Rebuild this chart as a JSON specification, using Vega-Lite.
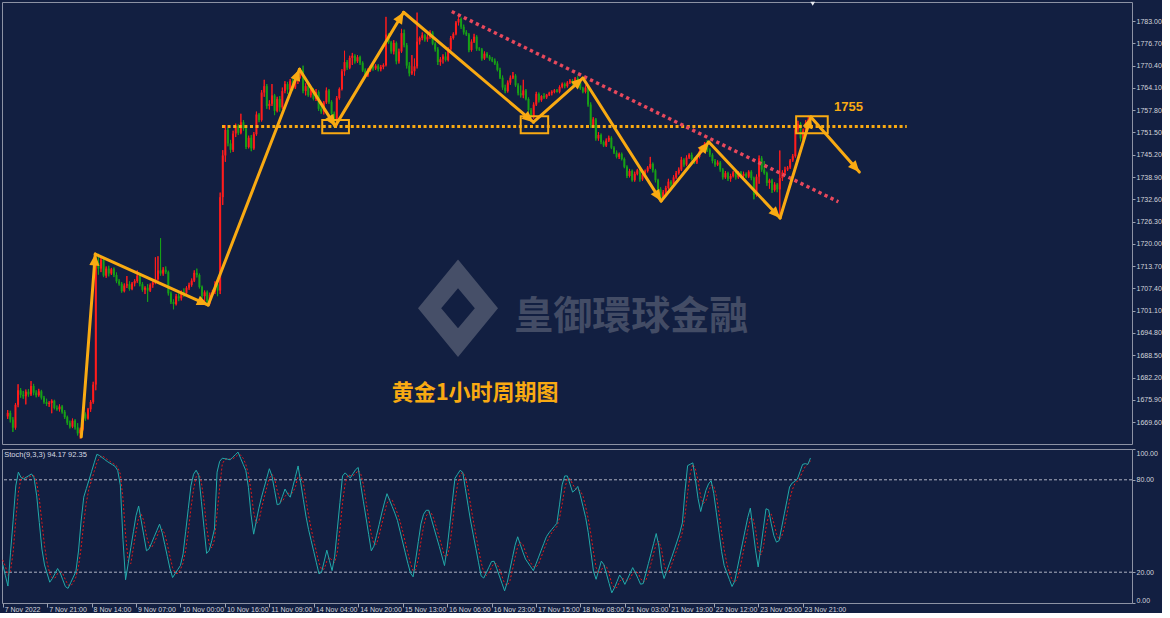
{
"$schema":"https://vega.github.io/schema/vega-lite/v6.json",
"padding":{"left":0,"top":1,"right":0,"bottom":0},
"background":"#121f41",
"spacing":3,
"datasets":{
"bars":[
{"i":0,"o":1671.2,"h":1673.0,"l":1670.5,"c":1672.2,"k":25,"d":28},
{"i":1,"o":1672.2,"h":1672.8,"l":1669.5,"c":1670.3,"k":18,"d":24},
{"i":2,"o":1670.3,"h":1671.0,"l":1666.8,"c":1668.0,"k":11,"d":18},
{"i":3,"o":1668.0,"h":1675.0,"l":1667.5,"c":1674.5,"k":33,"d":21},
{"i":4,"o":1674.5,"h":1680.3,"l":1673.8,"c":1678.6,"k":54,"d":33},
{"i":5,"o":1678.6,"h":1679.2,"l":1676.5,"c":1677.3,"k":76,"d":54},
{"i":6,"o":1677.3,"h":1678.4,"l":1676.2,"c":1676.9,"k":85,"d":72},
{"i":7,"o":1676.9,"h":1678.8,"l":1674.6,"c":1678.2,"k":81.5,"d":81},
{"i":8,"o":1678.2,"h":1678.9,"l":1676.8,"c":1677.4,"k":80.6,"d":82},
{"i":9,"o":1677.4,"h":1681.2,"l":1677.0,"c":1679.8,"k":81.7,"d":81},
{"i":10,"o":1679.8,"h":1680.4,"l":1677.2,"c":1677.9,"k":82.7,"d":81.7},
{"i":11,"o":1677.9,"h":1678.6,"l":1676.6,"c":1677.2,"k":83.8,"d":82.7},
{"i":12,"o":1677.2,"h":1679.0,"l":1676.8,"c":1678.3,"k":81.3,"d":82.6},
{"i":13,"o":1678.3,"h":1678.7,"l":1676.0,"c":1676.5,"k":69.6,"d":78.2},
{"i":14,"o":1676.5,"h":1677.0,"l":1674.8,"c":1675.3,"k":52.3,"d":67.7},
{"i":15,"o":1675.3,"h":1676.2,"l":1674.2,"c":1674.7,"k":35,"d":52.3},
{"i":16,"o":1674.7,"h":1675.5,"l":1673.9,"c":1675.0,"k":24.7,"d":37.3},
{"i":17,"o":1675.0,"h":1676.0,"l":1672.1,"c":1675.6,"k":19.1,"d":26.3},
{"i":18,"o":1675.6,"h":1675.9,"l":1673.2,"c":1673.6,"k":13.5,"d":19.1},
{"i":19,"o":1673.6,"h":1674.3,"l":1672.8,"c":1673.2,"k":15.9,"d":16.2},
{"i":20,"o":1673.2,"h":1674.6,"l":1672.6,"c":1674.0,"k":19.1,"d":16.2},
{"i":21,"o":1674.0,"h":1674.4,"l":1672.0,"c":1672.5,"k":22.4,"d":19.1},
{"i":22,"o":1672.5,"h":1673.0,"l":1670.5,"c":1671.0,"k":19.5,"d":20.3},
{"i":23,"o":1671.0,"h":1671.4,"l":1668.8,"c":1669.4,"k":15,"d":19},
{"i":24,"o":1669.4,"h":1670.0,"l":1667.8,"c":1668.3,"k":10.6,"d":15},
{"i":25,"o":1668.3,"h":1670.6,"l":1667.9,"c":1670.0,"k":9.5,"d":11.7},
{"i":26,"o":1670.0,"h":1670.4,"l":1667.5,"c":1668.1,"k":13.2,"d":11.1},
{"i":27,"o":1668.1,"h":1669.3,"l":1665.8,"c":1666.4,"k":16.8,"d":13.2},
{"i":28,"o":1666.4,"h":1668.0,"l":1664.9,"c":1667.5,"k":20.5,"d":16.8},
{"i":29,"o":1667.5,"h":1672.4,"l":1667.2,"c":1671.8,"k":33.8,"d":23.7},
{"i":30,"o":1671.8,"h":1672.3,"l":1670.0,"c":1670.6,"k":53.3,"d":35.9},
{"i":31,"o":1670.6,"h":1673.6,"l":1670.3,"c":1673.2,"k":68.7,"d":51.9},
{"i":32,"o":1673.2,"h":1675.8,"l":1672.5,"c":1675.3,"k":74.3,"d":65.4},
{"i":33,"o":1675.3,"h":1681.0,"l":1674.8,"c":1680.2,"k":79.8,"d":74.3},
{"i":34,"o":1680.2,"h":1715.6,"l":1678.6,"c":1714.6,"k":85.4,"d":79.8},
{"i":35,"o":1714.6,"h":1717.2,"l":1711.3,"c":1713.0,"k":91,"d":85.4},
{"i":36,"o":1713.0,"h":1716.2,"l":1712.0,"c":1715.5,"k":96.5,"d":91},
{"i":37,"o":1715.5,"h":1716.0,"l":1710.6,"c":1711.0,"k":95.8,"d":94.4},
{"i":38,"o":1711.0,"h":1713.6,"l":1710.4,"c":1713.0,"k":94.5,"d":95.6},
{"i":39,"o":1713.0,"h":1713.8,"l":1710.8,"c":1711.6,"k":93.2,"d":94.5},
{"i":40,"o":1711.6,"h":1713.2,"l":1711.2,"c":1712.8,"k":91.9,"d":93.2},
{"i":41,"o":1712.8,"h":1713.3,"l":1710.6,"c":1711.2,"k":90.8,"d":92},
{"i":42,"o":1711.2,"h":1711.9,"l":1708.9,"c":1709.4,"k":89.8,"d":90.8},
{"i":43,"o":1709.4,"h":1710.0,"l":1708.2,"c":1708.7,"k":88.7,"d":89.8},
{"i":44,"o":1708.7,"h":1709.2,"l":1706.2,"c":1706.6,"k":86,"d":88.2},
{"i":45,"o":1706.6,"h":1708.8,"l":1706.3,"c":1708.2,"k":76.5,"d":83.7},
{"i":46,"o":1708.2,"h":1710.9,"l":1707.5,"c":1708.6,"k":41.3,"d":67.9},
{"i":47,"o":1708.6,"h":1709.4,"l":1706.8,"c":1707.2,"k":15.1,"d":44.3},
{"i":48,"o":1707.2,"h":1709.2,"l":1706.9,"c":1708.8,"k":25.5,"d":27.3},
{"i":49,"o":1708.8,"h":1710.0,"l":1708.0,"c":1709.5,"k":35.9,"d":25.5},
{"i":50,"o":1709.5,"h":1712.5,"l":1709.0,"c":1711.0,"k":46.3,"d":35.9},
{"i":51,"o":1711.0,"h":1711.8,"l":1708.0,"c":1708.6,"k":56.7,"d":46.3},
{"i":52,"o":1708.6,"h":1709.2,"l":1706.5,"c":1707.0,"k":63,"d":55.3},
{"i":53,"o":1707.0,"h":1708.0,"l":1705.8,"c":1707.6,"k":53.3,"d":57.7},
{"i":54,"o":1707.6,"h":1708.6,"l":1703.6,"c":1706.8,"k":43.6,"d":53.3},
{"i":55,"o":1706.8,"h":1708.8,"l":1706.4,"c":1708.4,"k":33.9,"d":43.6},
{"i":56,"o":1708.4,"h":1709.5,"l":1707.6,"c":1709.1,"k":35.2,"d":37.6},
{"i":57,"o":1709.1,"h":1716.2,"l":1708.6,"c":1710.0,"k":39.2,"d":36.1},
{"i":58,"o":1710.0,"h":1716.5,"l":1709.6,"c":1712.5,"k":43.2,"d":39.2},
{"i":59,"o":1712.5,"h":1721.6,"l":1711.0,"c":1711.6,"k":47.2,"d":43.2},
{"i":60,"o":1711.6,"h":1713.4,"l":1711.0,"c":1712.7,"k":51.2,"d":47.2},
{"i":61,"o":1712.7,"h":1713.6,"l":1711.5,"c":1712.0,"k":45.7,"d":48},
{"i":62,"o":1712.0,"h":1712.4,"l":1705.4,"c":1706.0,"k":37.9,"d":44.9},
{"i":63,"o":1706.0,"h":1706.5,"l":1703.0,"c":1703.6,"k":30.1,"d":37.9},
{"i":64,"o":1703.6,"h":1704.3,"l":1701.5,"c":1703.0,"k":22.2,"d":30.1},
{"i":65,"o":1703.0,"h":1705.8,"l":1702.6,"c":1705.2,"k":16.5,"d":22.9},
{"i":66,"o":1705.2,"h":1706.0,"l":1703.8,"c":1704.6,"k":19.2,"d":19.3},
{"i":67,"o":1704.6,"h":1706.8,"l":1704.0,"c":1706.2,"k":21.8,"d":19.2},
{"i":68,"o":1706.2,"h":1707.4,"l":1705.0,"c":1706.0,"k":24.4,"d":21.8},
{"i":69,"o":1706.0,"h":1708.0,"l":1705.6,"c":1707.6,"k":31.9,"d":26},
{"i":70,"o":1707.6,"h":1709.0,"l":1707.0,"c":1708.4,"k":46.6,"d":34.3},
{"i":71,"o":1708.4,"h":1710.2,"l":1707.9,"c":1709.6,"k":61.3,"d":46.6},
{"i":72,"o":1709.6,"h":1712.5,"l":1709.2,"c":1711.8,"k":76.1,"d":61.3},
{"i":73,"o":1711.8,"h":1713.0,"l":1710.5,"c":1711.2,"k":83.6,"d":73.7},
{"i":74,"o":1711.2,"h":1711.6,"l":1707.4,"c":1707.8,"k":86.2,"d":82},
{"i":75,"o":1707.8,"h":1708.2,"l":1704.6,"c":1705.2,"k":82.9,"d":84.2},
{"i":76,"o":1705.2,"h":1706.8,"l":1703.4,"c":1706.3,"k":66,"d":78.4},
{"i":77,"o":1706.3,"h":1706.8,"l":1703.2,"c":1703.8,"k":49.1,"d":66},
{"i":78,"o":1703.8,"h":1706.2,"l":1702.9,"c":1705.6,"k":32.2,"d":49.1},
{"i":79,"o":1705.6,"h":1707.0,"l":1705.0,"c":1706.4,"k":34.2,"d":38.5},
{"i":80,"o":1706.4,"h":1709.4,"l":1705.8,"c":1708.6,"k":40.7,"d":35.7},
{"i":81,"o":1708.6,"h":1710.4,"l":1705.2,"c":1706.8,"k":48,"d":41},
{"i":82,"o":1706.8,"h":1734.5,"l":1705.8,"c":1733.2,"k":85,"d":58},
{"i":83,"o":1733.2,"h":1746.5,"l":1731.0,"c":1745.0,"k":92,"d":75},
{"i":84,"o":1745.0,"h":1753.6,"l":1743.2,"c":1752.2,"k":94,"d":90.3},
{"i":85,"o":1752.2,"h":1752.8,"l":1747.6,"c":1748.4,"k":93.7,"d":93.2},
{"i":86,"o":1748.4,"h":1749.4,"l":1745.8,"c":1746.6,"k":93.4,"d":93.7},
{"i":87,"o":1746.6,"h":1752.0,"l":1746.0,"c":1751.2,"k":93,"d":93.4},
{"i":88,"o":1751.2,"h":1754.0,"l":1750.2,"c":1753.4,"k":94.7,"d":93.7},
{"i":89,"o":1753.4,"h":1753.8,"l":1750.8,"c":1751.4,"k":96.3,"d":94.7},
{"i":90,"o":1751.4,"h":1756.8,"l":1751.0,"c":1754.4,"k":98,"d":96.3},
{"i":91,"o":1754.4,"h":1755.0,"l":1752.0,"c":1752.6,"k":94,"d":96.1},
{"i":92,"o":1752.6,"h":1753.0,"l":1746.8,"c":1747.4,"k":90,"d":94},
{"i":93,"o":1747.4,"h":1750.6,"l":1747.0,"c":1750.0,"k":86,"d":90},
{"i":94,"o":1750.0,"h":1750.8,"l":1746.2,"c":1747.0,"k":75.1,"d":83.7},
{"i":95,"o":1747.0,"h":1751.6,"l":1746.6,"c":1751.0,"k":57.3,"d":72.8},
{"i":96,"o":1751.0,"h":1757.4,"l":1750.6,"c":1756.6,"k":44.7,"d":59},
{"i":97,"o":1756.6,"h":1757.0,"l":1754.4,"c":1755.0,"k":53.2,"d":51.7},
{"i":98,"o":1755.0,"h":1763.5,"l":1754.6,"c":1762.8,"k":61.6,"d":53.2},
{"i":99,"o":1762.8,"h":1766.4,"l":1761.6,"c":1764.6,"k":68.7,"d":61.2},
{"i":100,"o":1764.6,"h":1765.2,"l":1758.2,"c":1759.0,"k":74.9,"d":68.4},
{"i":101,"o":1759.0,"h":1760.6,"l":1758.0,"c":1759.6,"k":81,"d":74.9},
{"i":102,"o":1759.6,"h":1765.2,"l":1759.0,"c":1762.0,"k":87.2,"d":81},
{"i":103,"o":1762.0,"h":1762.4,"l":1756.4,"c":1757.6,"k":82.5,"d":83.6},
{"i":104,"o":1757.6,"h":1761.6,"l":1757.2,"c":1761.0,"k":73.2,"d":81},
{"i":105,"o":1761.0,"h":1761.8,"l":1757.4,"c":1758.6,"k":63.8,"d":73.2},
{"i":106,"o":1758.6,"h":1764.2,"l":1758.2,"c":1763.2,"k":64.4,"d":67.1},
{"i":107,"o":1763.2,"h":1766.0,"l":1762.6,"c":1765.2,"k":69.2,"d":65.8},
{"i":108,"o":1765.2,"h":1765.8,"l":1762.4,"c":1763.6,"k":74,"d":69.2},
{"i":109,"o":1763.6,"h":1766.6,"l":1763.2,"c":1766.0,"k":70.8,"d":71.3},
{"i":110,"o":1766.0,"h":1766.6,"l":1763.4,"c":1764.2,"k":68.7,"d":71.2},
{"i":111,"o":1764.2,"h":1767.0,"l":1763.8,"c":1766.4,"k":75.5,"d":71.7},
{"i":112,"o":1766.4,"h":1768.0,"l":1765.2,"c":1767.4,"k":82.3,"d":75.5},
{"i":113,"o":1767.4,"h":1769.6,"l":1766.8,"c":1769.0,"k":89,"d":82.3},
{"i":114,"o":1769.0,"h":1770.4,"l":1762.6,"c":1763.2,"k":78.1,"d":83.1},
{"i":115,"o":1763.2,"h":1765.4,"l":1762.0,"c":1764.6,"k":67.3,"d":78.1},
{"i":116,"o":1764.6,"h":1765.0,"l":1761.6,"c":1762.0,"k":56.4,"d":67.3},
{"i":117,"o":1762.0,"h":1764.2,"l":1761.4,"c":1763.6,"k":47.7,"d":57.1},
{"i":118,"o":1763.6,"h":1764.0,"l":1760.6,"c":1761.0,"k":40.5,"d":48.2},
{"i":119,"o":1761.0,"h":1763.8,"l":1760.4,"c":1763.0,"k":33.3,"d":40.5},
{"i":120,"o":1763.0,"h":1763.4,"l":1757.6,"c":1758.2,"k":26.1,"d":33.3},
{"i":121,"o":1758.2,"h":1759.8,"l":1756.8,"c":1757.4,"k":18.9,"d":26.1},
{"i":122,"o":1757.4,"h":1760.4,"l":1756.6,"c":1760.0,"k":20.2,"d":21.7},
{"i":123,"o":1760.0,"h":1764.2,"l":1759.6,"c":1763.4,"k":27.2,"d":22.1},
{"i":124,"o":1763.4,"h":1763.8,"l":1759.6,"c":1760.2,"k":34.3,"d":27.2},
{"i":125,"o":1760.2,"h":1760.6,"l":1756.2,"c":1756.8,"k":27.5,"d":29.7},
{"i":126,"o":1756.8,"h":1757.4,"l":1753.0,"c":1753.6,"k":21,"d":27.6},
{"i":127,"o":1753.6,"h":1761.8,"l":1753.2,"c":1761.2,"k":30.4,"d":26.3},
{"i":128,"o":1761.2,"h":1764.2,"l":1760.8,"c":1763.8,"k":47.8,"d":33.1},
{"i":129,"o":1763.8,"h":1769.4,"l":1763.4,"c":1768.8,"k":65.2,"d":47.8},
{"i":130,"o":1768.8,"h":1774.6,"l":1767.6,"c":1771.4,"k":82.5,"d":65.2},
{"i":131,"o":1771.4,"h":1772.0,"l":1769.2,"c":1769.8,"k":84.5,"d":77.4},
{"i":132,"o":1769.8,"h":1773.2,"l":1769.4,"c":1772.6,"k":82.7,"d":83.2},
{"i":133,"o":1772.6,"h":1774.0,"l":1770.6,"c":1773.2,"k":81.3,"d":82.8},
{"i":134,"o":1773.2,"h":1773.6,"l":1771.0,"c":1771.6,"k":84,"d":82.7},
{"i":135,"o":1771.6,"h":1773.4,"l":1771.2,"c":1772.8,"k":86.6,"d":84},
{"i":136,"o":1772.8,"h":1773.2,"l":1770.6,"c":1771.2,"k":88,"d":86.2},
{"i":137,"o":1771.2,"h":1771.6,"l":1768.6,"c":1769.0,"k":76.3,"d":83.6},
{"i":138,"o":1769.0,"h":1769.6,"l":1767.0,"c":1767.6,"k":65.7,"d":76.7},
{"i":139,"o":1767.6,"h":1769.6,"l":1767.2,"c":1769.0,"k":55.1,"d":65.7},
{"i":140,"o":1769.0,"h":1770.6,"l":1768.6,"c":1770.2,"k":44.5,"d":55.1},
{"i":141,"o":1770.2,"h":1770.6,"l":1769.0,"c":1769.6,"k":33.9,"d":44.5},
{"i":142,"o":1769.6,"h":1770.8,"l":1769.2,"c":1770.4,"k":36.9,"d":38.4},
{"i":143,"o":1770.4,"h":1770.8,"l":1768.8,"c":1769.4,"k":43.9,"d":38.2},
{"i":144,"o":1769.4,"h":1770.6,"l":1768.8,"c":1770.0,"k":50.9,"d":43.9},
{"i":145,"o":1770.0,"h":1771.0,"l":1769.4,"c":1770.6,"k":58.4,"d":51.1},
{"i":146,"o":1770.6,"h":1784.2,"l":1770.2,"c":1779.2,"k":65,"d":58.1},
{"i":147,"o":1779.2,"h":1779.6,"l":1776.6,"c":1777.0,"k":71,"d":64.8},
{"i":148,"o":1777.0,"h":1777.4,"l":1773.8,"c":1774.4,"k":66.8,"d":67.6},
{"i":149,"o":1774.4,"h":1777.6,"l":1773.6,"c":1776.8,"k":62.6,"d":66.8},
{"i":150,"o":1776.8,"h":1777.2,"l":1770.8,"c":1771.6,"k":58.4,"d":62.6},
{"i":151,"o":1771.6,"h":1775.2,"l":1771.0,"c":1774.4,"k":53.6,"d":58.2},
{"i":152,"o":1774.4,"h":1780.8,"l":1774.0,"c":1779.6,"k":46.6,"d":52.9},
{"i":153,"o":1779.6,"h":1780.6,"l":1775.6,"c":1776.2,"k":39.6,"d":46.6},
{"i":154,"o":1776.2,"h":1776.8,"l":1769.6,"c":1770.4,"k":32.6,"d":39.6},
{"i":155,"o":1770.4,"h":1771.4,"l":1767.4,"c":1768.2,"k":25.6,"d":32.6},
{"i":156,"o":1768.2,"h":1773.4,"l":1767.8,"c":1768.8,"k":19.5,"d":25.9},
{"i":157,"o":1768.8,"h":1772.4,"l":1767.6,"c":1770.2,"k":17,"d":20.7},
{"i":158,"o":1770.2,"h":1785.4,"l":1769.6,"c":1777.2,"k":28.5,"d":21.7},
{"i":159,"o":1777.2,"h":1778.6,"l":1776.4,"c":1778.2,"k":40,"d":28.5},
{"i":160,"o":1778.2,"h":1779.8,"l":1777.6,"c":1779.0,"k":51.4,"d":40},
{"i":161,"o":1779.0,"h":1779.4,"l":1777.2,"c":1777.8,"k":57.6,"d":49.7},
{"i":162,"o":1777.8,"h":1779.2,"l":1777.2,"c":1778.6,"k":60.2,"d":56.4},
{"i":163,"o":1778.6,"h":1780.4,"l":1778.0,"c":1779.8,"k":60.2,"d":59.3},
{"i":164,"o":1779.8,"h":1780.2,"l":1776.2,"c":1776.6,"k":54.4,"d":58.3},
{"i":165,"o":1776.6,"h":1777.0,"l":1774.4,"c":1775.0,"k":48.5,"d":54.4},
{"i":166,"o":1775.0,"h":1775.6,"l":1770.6,"c":1771.4,"k":42.6,"d":48.5},
{"i":167,"o":1771.4,"h":1772.8,"l":1770.4,"c":1772.2,"k":36.8,"d":42.6},
{"i":168,"o":1772.2,"h":1773.6,"l":1771.0,"c":1773.0,"k":30.6,"d":36.7},
{"i":169,"o":1773.0,"h":1774.2,"l":1771.6,"c":1772.0,"k":24.3,"d":30.6},
{"i":170,"o":1772.0,"h":1775.6,"l":1771.6,"c":1775.0,"k":35.3,"d":30.1},
{"i":171,"o":1775.0,"h":1778.8,"l":1774.6,"c":1778.2,"k":50.5,"d":36.7},
{"i":172,"o":1778.2,"h":1779.8,"l":1777.8,"c":1779.4,"k":65.8,"d":50.5},
{"i":173,"o":1779.4,"h":1783.0,"l":1779.0,"c":1782.6,"k":81,"d":65.8},
{"i":174,"o":1782.6,"h":1784.4,"l":1781.8,"c":1783.6,"k":83.6,"d":76.8},
{"i":175,"o":1783.6,"h":1784.0,"l":1780.8,"c":1781.4,"k":86.2,"d":83.6},
{"i":176,"o":1781.4,"h":1782.0,"l":1779.2,"c":1779.8,"k":84.8,"d":84.9},
{"i":177,"o":1779.8,"h":1780.4,"l":1778.8,"c":1779.2,"k":74.2,"d":81.7},
{"i":178,"o":1779.2,"h":1779.6,"l":1774.2,"c":1774.8,"k":63.5,"d":74.2},
{"i":179,"o":1774.8,"h":1777.8,"l":1774.4,"c":1777.2,"k":53.2,"d":63.6},
{"i":180,"o":1777.2,"h":1779.4,"l":1776.8,"c":1778.6,"k":44.3,"d":53.7},
{"i":181,"o":1778.6,"h":1779.0,"l":1774.6,"c":1775.2,"k":35.4,"d":44.3},
{"i":182,"o":1775.2,"h":1775.6,"l":1774.6,"c":1775.0,"k":26.5,"d":35.4},
{"i":183,"o":1775.0,"h":1775.4,"l":1771.8,"c":1772.4,"k":17.6,"d":26.5},
{"i":184,"o":1772.4,"h":1774.4,"l":1772.0,"c":1773.8,"k":16.2,"d":20.1},
{"i":185,"o":1773.8,"h":1774.2,"l":1772.6,"c":1773.0,"k":19.7,"d":17.8},
{"i":186,"o":1773.0,"h":1773.4,"l":1771.8,"c":1772.2,"k":23.3,"d":19.7},
{"i":187,"o":1772.2,"h":1772.8,"l":1771.4,"c":1771.8,"k":26.9,"d":23.3},
{"i":188,"o":1771.8,"h":1772.4,"l":1770.6,"c":1771.0,"k":27.1,"d":25.8},
{"i":189,"o":1771.0,"h":1771.6,"l":1768.8,"c":1769.2,"k":22.3,"d":25.4},
{"i":190,"o":1769.2,"h":1769.8,"l":1766.6,"c":1767.0,"k":17.5,"d":22.3},
{"i":191,"o":1767.0,"h":1767.6,"l":1763.6,"c":1764.2,"k":12.7,"d":17.5},
{"i":192,"o":1764.2,"h":1765.0,"l":1762.6,"c":1763.2,"k":7.9,"d":12.7},
{"i":193,"o":1763.2,"h":1766.2,"l":1762.8,"c":1765.6,"k":13.4,"d":11.3},
{"i":194,"o":1765.6,"h":1767.6,"l":1765.0,"c":1767.0,"k":21.4,"d":14.2},
{"i":195,"o":1767.0,"h":1768.6,"l":1766.6,"c":1767.6,"k":29.5,"d":21.4},
{"i":196,"o":1767.6,"h":1768.0,"l":1764.4,"c":1764.8,"k":37.5,"d":29.5},
{"i":197,"o":1764.8,"h":1765.4,"l":1762.0,"c":1762.6,"k":43,"d":36.7},
{"i":198,"o":1762.6,"h":1764.8,"l":1761.4,"c":1762.0,"k":38,"d":39.5},
{"i":199,"o":1762.0,"h":1766.4,"l":1761.2,"c":1763.4,"k":33,"d":38},
{"i":200,"o":1763.4,"h":1763.8,"l":1760.6,"c":1761.0,"k":28.5,"d":33.2},
{"i":201,"o":1761.0,"h":1761.4,"l":1757.2,"c":1757.8,"k":26,"d":29.2},
{"i":202,"o":1757.8,"h":1758.4,"l":1755.6,"c":1756.2,"k":23.5,"d":26},
{"i":203,"o":1756.2,"h":1760.0,"l":1755.4,"c":1759.4,"k":21,"d":23.5},
{"i":204,"o":1759.4,"h":1763.0,"l":1759.0,"c":1762.4,"k":25.4,"d":23.3},
{"i":205,"o":1762.4,"h":1762.8,"l":1760.0,"c":1760.6,"k":29.8,"d":25.4},
{"i":206,"o":1760.6,"h":1762.0,"l":1760.2,"c":1761.8,"k":34.3,"d":29.8},
{"i":207,"o":1761.8,"h":1762.6,"l":1761.0,"c":1761.4,"k":38.7,"d":34.3},
{"i":208,"o":1761.4,"h":1762.4,"l":1761.0,"c":1762.2,"k":43.1,"d":38.7},
{"i":209,"o":1762.2,"h":1763.0,"l":1761.8,"c":1762.6,"k":45.6,"d":42.5},
{"i":210,"o":1762.6,"h":1763.4,"l":1762.0,"c":1763.0,"k":47.7,"d":45.5},
{"i":211,"o":1763.0,"h":1763.8,"l":1762.6,"c":1763.4,"k":49.7,"d":47.7},
{"i":212,"o":1763.4,"h":1763.8,"l":1762.8,"c":1763.0,"k":51.8,"d":49.7},
{"i":213,"o":1763.0,"h":1764.8,"l":1762.6,"c":1764.4,"k":63.7,"d":55.1},
{"i":214,"o":1764.4,"h":1765.6,"l":1764.0,"c":1765.2,"k":76.7,"d":64.1},
{"i":215,"o":1765.2,"h":1765.6,"l":1764.0,"c":1764.6,"k":82.5,"d":74.3},
{"i":216,"o":1764.6,"h":1766.0,"l":1764.2,"c":1765.6,"k":82.5,"d":80.6},
{"i":217,"o":1765.6,"h":1766.6,"l":1765.2,"c":1766.2,"k":77.3,"d":80.8},
{"i":218,"o":1766.2,"h":1766.6,"l":1765.0,"c":1765.4,"k":72,"d":77.3},
{"i":219,"o":1765.4,"h":1767.2,"l":1765.0,"c":1766.8,"k":73.4,"d":74.2},
{"i":220,"o":1766.8,"h":1767.4,"l":1765.4,"c":1765.8,"k":75.7,"d":73.7},
{"i":221,"o":1765.8,"h":1766.2,"l":1763.6,"c":1764.0,"k":69.6,"d":72.9},
{"i":222,"o":1764.0,"h":1764.4,"l":1762.6,"c":1763.0,"k":62.6,"d":69.3},
{"i":223,"o":1763.0,"h":1764.8,"l":1762.6,"c":1764.2,"k":55.5,"d":62.6},
{"i":224,"o":1764.2,"h":1764.6,"l":1758.8,"c":1759.4,"k":45.7,"d":54.6},
{"i":225,"o":1759.4,"h":1760.0,"l":1752.8,"c":1753.6,"k":33.2,"d":44.8},
{"i":226,"o":1753.6,"h":1755.8,"l":1753.0,"c":1755.2,"k":20.6,"d":33.2},
{"i":227,"o":1755.2,"h":1755.6,"l":1749.2,"c":1749.8,"k":15.4,"d":23.1},
{"i":228,"o":1749.8,"h":1751.6,"l":1749.2,"c":1750.8,"k":21.3,"d":19.1},
{"i":229,"o":1750.8,"h":1751.2,"l":1748.2,"c":1748.8,"k":27.2,"d":21.3},
{"i":230,"o":1748.8,"h":1749.2,"l":1747.4,"c":1747.8,"k":24.8,"d":24.4},
{"i":231,"o":1747.8,"h":1749.8,"l":1747.4,"c":1749.2,"k":18.7,"d":23.6},
{"i":232,"o":1749.2,"h":1750.6,"l":1748.8,"c":1750.0,"k":12.6,"d":18.7},
{"i":233,"o":1750.0,"h":1750.4,"l":1746.8,"c":1747.2,"k":6.6,"d":12.6},
{"i":234,"o":1747.2,"h":1747.6,"l":1745.4,"c":1745.8,"k":9.8,"d":9.7},
{"i":235,"o":1745.8,"h":1746.4,"l":1744.2,"c":1744.6,"k":14,"d":10.1},
{"i":236,"o":1744.6,"h":1745.8,"l":1744.0,"c":1745.4,"k":18.2,"d":14},
{"i":237,"o":1745.4,"h":1745.8,"l":1743.6,"c":1744.0,"k":15.7,"d":16},
{"i":238,"o":1744.0,"h":1744.4,"l":1741.4,"c":1741.8,"k":12.1,"d":15.3},
{"i":239,"o":1741.8,"h":1742.2,"l":1738.6,"c":1739.2,"k":15.6,"d":14.5},
{"i":240,"o":1739.2,"h":1741.2,"l":1738.8,"c":1740.6,"k":19.3,"d":15.7},
{"i":241,"o":1740.6,"h":1741.0,"l":1737.6,"c":1738.0,"k":23,"d":19.3},
{"i":242,"o":1738.0,"h":1740.4,"l":1737.6,"c":1739.8,"k":19.7,"d":20.7},
{"i":243,"o":1739.8,"h":1741.2,"l":1739.4,"c":1740.8,"k":16,"d":19.6},
{"i":244,"o":1740.8,"h":1741.2,"l":1737.6,"c":1738.2,"k":12.2,"d":16},
{"i":245,"o":1738.2,"h":1740.0,"l":1737.8,"c":1739.6,"k":12.6,"d":13.6},
{"i":246,"o":1739.6,"h":1741.0,"l":1739.2,"c":1740.6,"k":19.1,"d":14.6},
{"i":247,"o":1740.6,"h":1742.0,"l":1740.2,"c":1741.6,"k":25.6,"d":19.1},
{"i":248,"o":1741.6,"h":1744.6,"l":1741.2,"c":1742.6,"k":32.1,"d":25.6},
{"i":249,"o":1742.6,"h":1743.0,"l":1740.2,"c":1740.8,"k":38.6,"d":32.1},
{"i":250,"o":1740.8,"h":1741.2,"l":1737.4,"c":1738.0,"k":45.1,"d":38.6},
{"i":251,"o":1738.0,"h":1738.4,"l":1734.8,"c":1735.4,"k":37,"d":40.2},
{"i":252,"o":1735.4,"h":1736.0,"l":1732.0,"c":1732.8,"k":22.6,"d":34.9},
{"i":253,"o":1732.8,"h":1735.2,"l":1732.4,"c":1734.6,"k":15.9,"d":25.2},
{"i":254,"o":1734.6,"h":1736.4,"l":1734.2,"c":1735.8,"k":20.6,"d":19.7},
{"i":255,"o":1735.8,"h":1738.4,"l":1735.4,"c":1737.6,"k":25.4,"d":20.6},
{"i":256,"o":1737.6,"h":1738.0,"l":1736.2,"c":1736.8,"k":30.1,"d":25.4},
{"i":257,"o":1736.8,"h":1739.4,"l":1736.4,"c":1738.8,"k":35.1,"d":30.2},
{"i":258,"o":1738.8,"h":1740.6,"l":1738.4,"c":1740.0,"k":40.2,"d":35.1},
{"i":259,"o":1740.0,"h":1741.6,"l":1739.6,"c":1741.0,"k":45.4,"d":40.2},
{"i":260,"o":1741.0,"h":1744.6,"l":1740.6,"c":1743.8,"k":52,"d":45.9},
{"i":261,"o":1743.8,"h":1744.2,"l":1741.8,"c":1742.4,"k":72.5,"d":56.6},
{"i":262,"o":1742.4,"h":1745.0,"l":1742.0,"c":1744.4,"k":89.2,"d":71.2},
{"i":263,"o":1744.4,"h":1745.6,"l":1744.0,"c":1745.2,"k":90.1,"d":83.9},
{"i":264,"o":1745.2,"h":1745.8,"l":1743.6,"c":1744.0,"k":91,"d":90.1},
{"i":265,"o":1744.0,"h":1744.4,"l":1742.6,"c":1743.0,"k":80,"d":87},
{"i":266,"o":1743.0,"h":1745.0,"l":1742.6,"c":1744.6,"k":67.8,"d":79.6},
{"i":267,"o":1744.6,"h":1746.8,"l":1744.2,"c":1746.2,"k":59.4,"d":69.1},
{"i":268,"o":1746.2,"h":1747.8,"l":1745.8,"c":1747.4,"k":66.3,"d":64.5},
{"i":269,"o":1747.4,"h":1748.8,"l":1747.0,"c":1748.4,"k":73.2,"d":66.3},
{"i":270,"o":1748.4,"h":1749.4,"l":1746.0,"c":1746.6,"k":77.3,"d":72.3},
{"i":271,"o":1746.6,"h":1747.0,"l":1744.6,"c":1745.2,"k":79.4,"d":76.6},
{"i":272,"o":1745.2,"h":1745.6,"l":1742.8,"c":1743.4,"k":71.2,"d":76},
{"i":273,"o":1743.4,"h":1744.0,"l":1741.8,"c":1742.4,"k":58.6,"d":69.7},
{"i":274,"o":1742.4,"h":1743.6,"l":1742.0,"c":1743.0,"k":46,"d":58.6},
{"i":275,"o":1743.0,"h":1743.4,"l":1740.4,"c":1741.0,"k":33.5,"d":46},
{"i":276,"o":1741.0,"h":1741.4,"l":1738.2,"c":1738.8,"k":24.2,"d":34.6},
{"i":277,"o":1738.8,"h":1740.6,"l":1738.4,"c":1740.0,"k":19.7,"d":25.8},
{"i":278,"o":1740.0,"h":1740.4,"l":1737.8,"c":1738.4,"k":15.2,"d":19.7},
{"i":279,"o":1738.4,"h":1739.8,"l":1737.6,"c":1739.2,"k":10.7,"d":15.2},
{"i":280,"o":1739.2,"h":1740.6,"l":1738.8,"c":1740.2,"k":14,"d":13.3},
{"i":281,"o":1740.2,"h":1740.8,"l":1738.2,"c":1738.8,"k":22.3,"d":15.7},
{"i":282,"o":1738.8,"h":1740.6,"l":1738.4,"c":1740.2,"k":30.6,"d":22.3},
{"i":283,"o":1740.2,"h":1740.6,"l":1738.6,"c":1739.2,"k":38.9,"d":30.6},
{"i":284,"o":1739.2,"h":1740.4,"l":1738.8,"c":1739.8,"k":47.2,"d":38.9},
{"i":285,"o":1739.8,"h":1740.2,"l":1738.6,"c":1739.0,"k":55.5,"d":47.2},
{"i":286,"o":1739.0,"h":1740.8,"l":1738.6,"c":1740.4,"k":61.6,"d":54.8},
{"i":287,"o":1740.4,"h":1740.8,"l":1738.0,"c":1738.6,"k":47.9,"d":55},
{"i":288,"o":1738.6,"h":1739.0,"l":1732.6,"c":1733.8,"k":34.3,"d":47.9},
{"i":289,"o":1733.8,"h":1739.6,"l":1733.4,"c":1739.0,"k":23.4,"d":35.2},
{"i":290,"o":1739.0,"h":1745.0,"l":1737.0,"c":1744.2,"k":36,"d":31.2},
{"i":291,"o":1744.2,"h":1744.8,"l":1740.4,"c":1741.0,"k":48.6,"d":36},
{"i":292,"o":1741.0,"h":1743.4,"l":1739.6,"c":1740.0,"k":61.2,"d":48.6},
{"i":293,"o":1740.0,"h":1740.4,"l":1736.4,"c":1737.2,"k":60.5,"d":56.8},
{"i":294,"o":1737.2,"h":1738.4,"l":1735.6,"c":1738.0,"k":51.4,"d":57.7},
{"i":295,"o":1738.0,"h":1738.4,"l":1734.4,"c":1735.2,"k":43.7,"d":51.9},
{"i":296,"o":1735.2,"h":1737.4,"l":1734.8,"c":1736.8,"k":39.5,"d":44.9},
{"i":297,"o":1736.8,"h":1737.2,"l":1734.6,"c":1735.4,"k":40.5,"d":41.2},
{"i":298,"o":1735.4,"h":1746.4,"l":1727.4,"c":1738.6,"k":49.2,"d":43.1},
{"i":299,"o":1738.6,"h":1740.8,"l":1737.8,"c":1740.2,"k":57.9,"d":49.2},
{"i":300,"o":1740.2,"h":1741.8,"l":1739.6,"c":1741.0,"k":66.6,"d":57.9},
{"i":301,"o":1741.0,"h":1742.0,"l":1740.6,"c":1741.6,"k":75.3,"d":66.6},
{"i":302,"o":1741.6,"h":1744.0,"l":1741.2,"c":1743.6,"k":77.9,"d":73.3},
{"i":303,"o":1743.6,"h":1745.4,"l":1743.2,"c":1744.8,"k":79,"d":77.4},
{"i":304,"o":1744.8,"h":1753.2,"l":1744.4,"c":1752.4,"k":80.5,"d":79.1},
{"i":305,"o":1752.4,"h":1754.8,"l":1751.6,"c":1754.0,"k":85.3,"d":81.6},
{"i":306,"o":1754.0,"h":1754.4,"l":1749.0,"c":1749.8,"k":90,"d":85.3},
{"i":307,"o":1749.8,"h":1752.6,"l":1749.4,"c":1752.0,"k":90.5,"d":88.6},
{"i":308,"o":1752.0,"h":1755.0,"l":1751.6,"c":1754.2,"k":90,"d":90.2},
{"i":309,"o":1754.2,"h":1756.2,"l":1753.8,"c":1755.2,"k":94.17,"d":92.35}
],
"zig":[
{"i1":28.4,"p1":1665.4,"i2":33.8,"p2":1717.1},
{"i1":33.8,"p1":1717.1,"i2":77.4,"p2":1702.7},
{"i1":77.4,"p1":1702.7,"i2":112.6,"p2":1769.4},
{"i1":112.6,"p1":1769.4,"i2":126.4,"p2":1753.3},
{"i1":126.4,"p1":1753.3,"i2":152.8,"p2":1785.5},
{"i1":152.8,"p1":1785.5,"i2":202.9,"p2":1754.4},
{"i1":202.9,"p1":1754.4,"i2":222,"p2":1766.9},
{"i1":222,"p1":1766.9,"i2":252.2,"p2":1732.1},
{"i1":252.2,"p1":1732.1,"i2":270.6,"p2":1748.8},
{"i1":270.6,"p1":1748.8,"i2":298.1,"p2":1727.3},
{"i1":298.1,"p1":1727.3,"i2":310,"p2":1755.9},
{"i1":310,"p1":1755.9,"i2":328.7,"p2":1740.3}
],
"boxes":[
{"i1":121.4,"i2":131.7,"p1":1751.3,"p2":1755.0},
{"i1":198.0,"i2":208.6,"p1":1751.3,"p2":1756.1},
{"i1":304.3,"i2":316.5,"p1":1751.3,"p2":1756.1}
]
},
"vconcat":[
{
"width":1130,"height":442,
"resolve":{"axis":{"x":"independent","y":"independent"}},
"layer":[
{"data":{"name":"bars"},
 "mark":{"type":"rule","strokeWidth":1},
 "encoding":{"x":{"field":"i","type":"quantitative","scale":{"domain":[-0.27,432],"nice":false,"zero":false},"axis":null},
  "y":{"field":"l","type":"quantitative","scale":{"domain":[1663.4,1788.4],"nice":false,"zero":false},"axis":{"orient":"right","title":null,"values":[1669.6,1675.9,1682.2,1688.5,1694.8,1701.1,1707.4,1713.7,1720,1726.3,1732.6,1738.9,1745.2,1751.5,1757.8,1764.1,1770.4,1776.7,1783],"format":".2f","tickSize":3,"labelPadding":1,"domain":false,"labelFont":"Liberation Sans","labelFontSize":7,"labelColor":"#d2d5dc","tickColor":"#9aa0b0","grid":false}},
  "y2":{"field":"h"},
  "color":{"condition":{"test":"datum.c>=datum.o","value":"#ff1c1c"},"value":"#17a017"}}},
{"data":{"values":[{"i":173.8,"p":1701.8}]},
 "mark":{"type":"point","shape":"M0,-1.22 L1,0 L0,1.22 L-1,0 Z M0,-0.5 L-0.42,0 L0,0.5 L0.42,0 Z","filled":true,"size":6400,"color":"#464f68","opacity":1},
 "encoding":{"x":{"field":"i","type":"quantitative","scale":{"domain":[-0.27,432],"nice":false,"zero":false},"axis":null},
  "y":{"field":"p","type":"quantitative","scale":{"domain":[1663.4,1788.4],"nice":false,"zero":false},"axis":null}}},
{"data":{"values":[{"i":240.7,"p":1699.3,"t":"皇御環球金融"}]},
 "mark":{"type":"text","font":"Noto Sans CJK TC","fontSize":39,"fontWeight":"bold","color":"#434c65","align":"center","baseline":"middle"},
 "encoding":{"x":{"field":"i","type":"quantitative","scale":{"domain":[-0.27,432],"nice":false,"zero":false},"axis":null},
  "y":{"field":"p","type":"quantitative","scale":{"domain":[1663.4,1788.4],"nice":false,"zero":false},"axis":null},
  "text":{"field":"t"}}},
{"data":{"name":"bars"},
 "mark":{"type":"rule","strokeWidth":1},
 "encoding":{"x":{"field":"i","type":"quantitative","scale":{"domain":[-0.27,432],"nice":false,"zero":false},"axis":null},
  "y":{"field":"l","type":"quantitative","scale":{"domain":[1663.4,1788.4],"nice":false,"zero":false},"axis":null},
  "y2":{"field":"h"},
  "color":{"condition":{"test":"datum.c>=datum.o","value":"#ff1c1c"},"value":"#17a017"}}},
{"data":{"name":"bars"},
 "mark":{"type":"bar","width":2},
 "encoding":{"x":{"field":"i","type":"quantitative","scale":{"domain":[-0.27,432],"nice":false,"zero":false},"axis":null},
  "y":{"field":"o","type":"quantitative","scale":{"domain":[1663.4,1788.4],"nice":false,"zero":false},"axis":null},
  "y2":{"field":"c"},
  "color":{"condition":{"test":"datum.c>=datum.o","value":"#ff1c1c"},"value":"#17a017"}}},
{"data":{"values":[{"i1":82.7,"i2":347,"p":1753.2}]},
 "mark":{"type":"rule","strokeWidth":3,"strokeDash":[3,2.6],"color":"#f9aa12"},
 "encoding":{"x":{"field":"i1","type":"quantitative","scale":{"domain":[-0.27,432],"nice":false,"zero":false},"axis":null},
  "x2":{"field":"i2"},
  "y":{"field":"p","type":"quantitative","scale":{"domain":[1663.4,1788.4],"nice":false,"zero":false},"axis":null}}},
{"data":{"values":[{"i1":171.4,"p1":1785.7,"i2":320.6,"p2":1731.9}]},
 "mark":{"type":"rule","strokeWidth":3.5,"strokeDash":[3.3,3.4],"color":"#e8485c"},
 "encoding":{"x":{"field":"i1","type":"quantitative","scale":{"domain":[-0.27,432],"nice":false,"zero":false},"axis":null},
  "x2":{"field":"i2"},
  "y":{"field":"p1","type":"quantitative","scale":{"domain":[1663.4,1788.4],"nice":false,"zero":false},"axis":null},
  "y2":{"field":"p2"}}},
{"data":{"name":"boxes"},
 "mark":{"type":"rect","filled":false,"stroke":"#f9aa12","strokeWidth":2},
 "encoding":{"x":{"field":"i1","type":"quantitative","scale":{"domain":[-0.27,432],"nice":false,"zero":false},"axis":null},
  "x2":{"field":"i2"},
  "y":{"field":"p1","type":"quantitative","scale":{"domain":[1663.4,1788.4],"nice":false,"zero":false},"axis":null},
  "y2":{"field":"p2"}}},
{"data":{"name":"zig"},
 "mark":{"type":"rule","strokeWidth":3,"strokeCap":"round","color":"#f9aa12"},
 "encoding":{"x":{"field":"i1","type":"quantitative","scale":{"domain":[-0.27,432],"nice":false,"zero":false},"axis":null},
  "x2":{"field":"i2"},
  "y":{"field":"p1","type":"quantitative","scale":{"domain":[1663.4,1788.4],"nice":false,"zero":false},"axis":null},
  "y2":{"field":"p2"}}},
{"data":{"name":"zig"},
 "transform":[{"calculate":"atan2((datum.i2-datum.i1)*2.614,(datum.p2-datum.p1)*3.536)*180/PI","as":"ang"}],
 "mark":{"type":"point","shape":"M0,0 L-0.85,1.9 L0.85,1.9 Z","filled":true,"size":144,"color":"#f9aa12","opacity":1},
 "encoding":{"x":{"field":"i2","type":"quantitative","scale":{"domain":[-0.27,432],"nice":false,"zero":false},"axis":null},
  "y":{"field":"p2","type":"quantitative","scale":{"domain":[1663.4,1788.4],"nice":false,"zero":false},"axis":null},
  "angle":{"field":"ang","type":"quantitative","scale":null}}},
{"data":{"values":[{"i":324.5,"p":1758.7,"t":"1755"}]},
 "mark":{"type":"text","font":"Liberation Sans","fontSize":13,"fontWeight":"bold","color":"#f9aa12","align":"center","baseline":"middle"},
 "encoding":{"x":{"field":"i","type":"quantitative","scale":{"domain":[-0.27,432],"nice":false,"zero":false},"axis":null},
  "y":{"field":"p","type":"quantitative","scale":{"domain":[1663.4,1788.4],"nice":false,"zero":false},"axis":null},
  "text":{"field":"t"}}},
{"data":{"values":[{"i":180.4,"p":1677.8,"t":"黄金1小时周期图"}]},
 "mark":{"type":"text","font":"Noto Sans CJK SC","fontSize":22,"fontWeight":"bold","color":"#f9aa12","align":"center","baseline":"middle"},
 "encoding":{"x":{"field":"i","type":"quantitative","scale":{"domain":[-0.27,432],"nice":false,"zero":false},"axis":null},
  "y":{"field":"p","type":"quantitative","scale":{"domain":[1663.4,1788.4],"nice":false,"zero":false},"axis":null},
  "text":{"field":"t"}}},
{"data":{"values":[{"i":310.7,"p":1787.9}]},
 "mark":{"type":"point","shape":"triangle-down","filled":true,"size":22,"color":"#e8eaf0","opacity":1},
 "encoding":{"x":{"field":"i","type":"quantitative","scale":{"domain":[-0.27,432],"nice":false,"zero":false},"axis":null},
  "y":{"field":"p","type":"quantitative","scale":{"domain":[1663.4,1788.4],"nice":false,"zero":false},"axis":null}}}
]
},
{
"width":1130,"height":154,
"resolve":{"axis":{"x":"independent","y":"independent"}},
"layer":[
{"data":{"values":[{"lv":80},{"lv":20}]},
 "mark":{"type":"rule","strokeWidth":1,"strokeDash":[3,2],"color":"#aeb3c2"},
 "encoding":{"y":{"field":"lv","type":"quantitative","scale":{"domain":[0,100],"nice":false,"zero":false},"axis":{"orient":"right","title":null,"values":[0,20,80,100],"format":".2f","labelFlush":true,"tickSize":3,"labelPadding":1,"domain":false,"labelFont":"Liberation Sans","labelFontSize":7,"labelColor":"#d2d5dc","tickColor":"#9aa0b0","grid":false}}}},
{"data":{"name":"bars"},
 "mark":{"type":"line","strokeWidth":1,"color":"#e01a1a","strokeDash":[2,2]},
 "encoding":{"x":{"field":"i","type":"quantitative","scale":{"domain":[-0.27,432],"nice":false,"zero":false},"axis":{"title":null,"values":[0,17,34,51,68,85,102,119,136,153,170,187,204,221,238,255,272,289,306],"labelExpr":"['7 Nov 2022','7 Nov 21:00','8 Nov 14:00','9 Nov 07:00','10 Nov 00:00','10 Nov 16:00','11 Nov 09:00','14 Nov 04:00','14 Nov 20:00','15 Nov 13:00','16 Nov 06:00','16 Nov 23:00','17 Nov 15:00','18 Nov 08:00','21 Nov 03:00','21 Nov 19:00','22 Nov 12:00','23 Nov 05:00','23 Nov 21:00'][round(datum.value/17)]","labelAlign":"left","labelBaseline":"top","labelPadding":-2,"labelOffset":1.5,"labelOverlap":false,"labelBound":false,"labelFlush":false,"tickSize":4,"domain":false,"labelFont":"Liberation Sans","labelFontSize":7,"labelColor":"#d2d5dc","tickColor":"#9aa0b0","grid":false}},
  "y":{"field":"d","type":"quantitative","scale":{"domain":[0,100],"nice":false,"zero":false},"axis":null}}},
{"data":{"name":"bars"},
 "mark":{"type":"line","strokeWidth":1,"color":"#22a9a9"},
 "encoding":{"x":{"field":"i","type":"quantitative","scale":{"domain":[-0.27,432],"nice":false,"zero":false},"axis":null},
  "y":{"field":"k","type":"quantitative","scale":{"domain":[0,100],"nice":false,"zero":false},"axis":null}}},
{"data":{"values":[{"i":0.6,"v":96.3,"t":"Stoch(9,3,3) 94.17 92.35"}]},
 "mark":{"type":"text","font":"Liberation Sans","fontSize":7.5,"color":"#d8dbe2","align":"left","baseline":"middle"},
 "encoding":{"x":{"field":"i","type":"quantitative","scale":{"domain":[-0.27,432],"nice":false,"zero":false},"axis":null},
  "y":{"field":"v","type":"quantitative","scale":{"domain":[0,100],"nice":false,"zero":false},"axis":null},
  "text":{"field":"t"}}}
]
}
],
"config":{"view":{"fill":"#121f41","stroke":"#8c92a4","strokeWidth":1}}
}
